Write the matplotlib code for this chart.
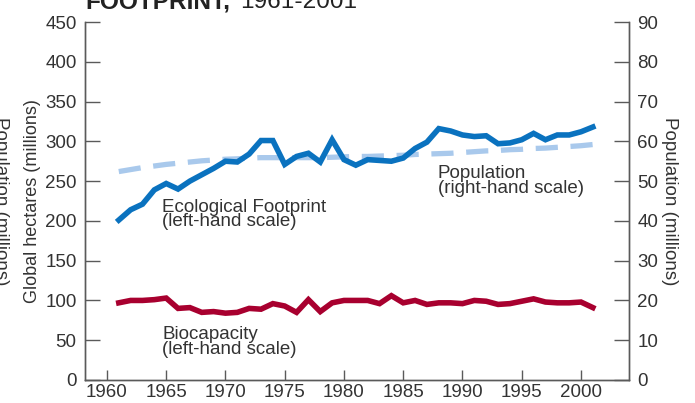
import matplotlib.pyplot as plt

plt.rcParams['font.family'] = ['Liberation Sans', 'DejaVu Sans']

years = list(range(1961, 2002))
footprint = [201, 214, 221, 239, 247, 240, 250, 258, 266, 275,
             274, 284, 301, 301, 271, 281, 285, 274, 302, 277,
             270, 277, 276, 275, 279, 291, 299, 316, 313, 308,
             306, 307, 297, 298, 302, 310, 302, 308, 308, 312, 318]
biocapacity = [97, 100, 100, 101, 103, 90, 91, 85, 86, 84,
               85, 90, 89, 96, 93, 85, 101, 86, 97, 100,
               100, 100, 96, 106, 97, 100, 95, 97, 97, 96,
               100, 99, 95, 96, 99, 102, 98, 97, 97, 98, 91]
population = [52.4, 52.9, 53.4, 53.8, 54.2, 54.5, 54.8, 55.1, 55.3, 55.5,
              55.6, 55.8, 55.9, 55.9, 55.9, 55.9, 55.9, 55.9, 56.0, 56.1,
              56.2, 56.2, 56.3, 56.4, 56.5, 56.7, 56.8, 56.9, 57.0, 57.2,
              57.4, 57.6, 57.7, 57.9, 58.0, 58.2, 58.3, 58.5, 58.7, 58.9, 59.2]

ax_color = '#5a5a5a'
txt_color = '#333333'
fs = 13.5

fig = plt.figure(figsize=(6.95, 4.03), dpi=100)
ax = fig.add_axes([85/695, 1 - 380/403, 544/695, 358/403])
ax2 = ax.twinx()

# population behind the footprint line
ax.set_zorder(ax2.get_zorder() + 1)
ax.patch.set_visible(False)

ax2.plot(years, population, color='#a9c9ec', lw=3.8, dashes=(4.2, 2.4),
         solid_capstyle='butt', dash_capstyle='butt')
ax.plot(years, footprint, color='#0a72bf', lw=4, solid_joinstyle='miter')
ax.plot(years, biocapacity, color='#a8002f', lw=4, solid_joinstyle='miter')

ax.set_xlim(1958.15, 2004.05)
ax.set_ylim(0, 450)
ax2.set_ylim(0, 90)
ax.set_xticks(range(1960, 2001, 5))
ax.set_yticks(range(0, 451, 50))
ax2.set_yticks(range(0, 91, 10))

for a in (ax, ax2):
    a.spines['top'].set_visible(False)
    for s in a.spines.values():
        s.set_color(ax_color)
        s.set_linewidth(1.0)
ax.tick_params(axis='y', direction='in', length=11, width=1, color=ax_color,
               labelsize=fs, labelcolor=txt_color, pad=6)
ax2.tick_params(axis='y', direction='in', length=11, width=1, color=ax_color,
                labelsize=fs, labelcolor=txt_color, pad=6)
ax.tick_params(axis='x', direction='in', length=7, width=1, color=ax_color,
               labelsize=fs, labelcolor=txt_color, pad=3)

ax.set_ylabel('Global hectares (millions)', fontsize=13, color=txt_color, labelpad=3)
ax2.set_ylabel('Population (millions)', fontsize=fs, color=txt_color,
               rotation=270, labelpad=14)
fig.text(9/695, 0.5, 'Population (millions)', fontsize=fs, color=txt_color,
         rotation=270, ha='right', va='center')

fig.text(85/695, 1 - 8.5/403, 'FOOTPRINT,', fontsize=17.6, fontweight='bold',
         color='#222222', va='baseline')
fig.text(240/695, 1 - 8.5/403, '1961-2001', fontsize=17.6, color='#222222',
         va='baseline')

ax.text(1964.65, 193.5, 'Ecological Footprint\n(left-hand scale)', fontsize=fs,
        color=txt_color, va='baseline', linespacing=0.8)
ax.text(1987.9, 235.5, 'Population\n(right-hand scale)', fontsize=fs,
        color=txt_color, va='baseline', linespacing=0.8)
ax.text(1964.65, 33, 'Biocapacity\n(left-hand scale)', fontsize=fs,
        color=txt_color, va='baseline', linespacing=0.8)

fig.savefig('out.png', dpi=100)
